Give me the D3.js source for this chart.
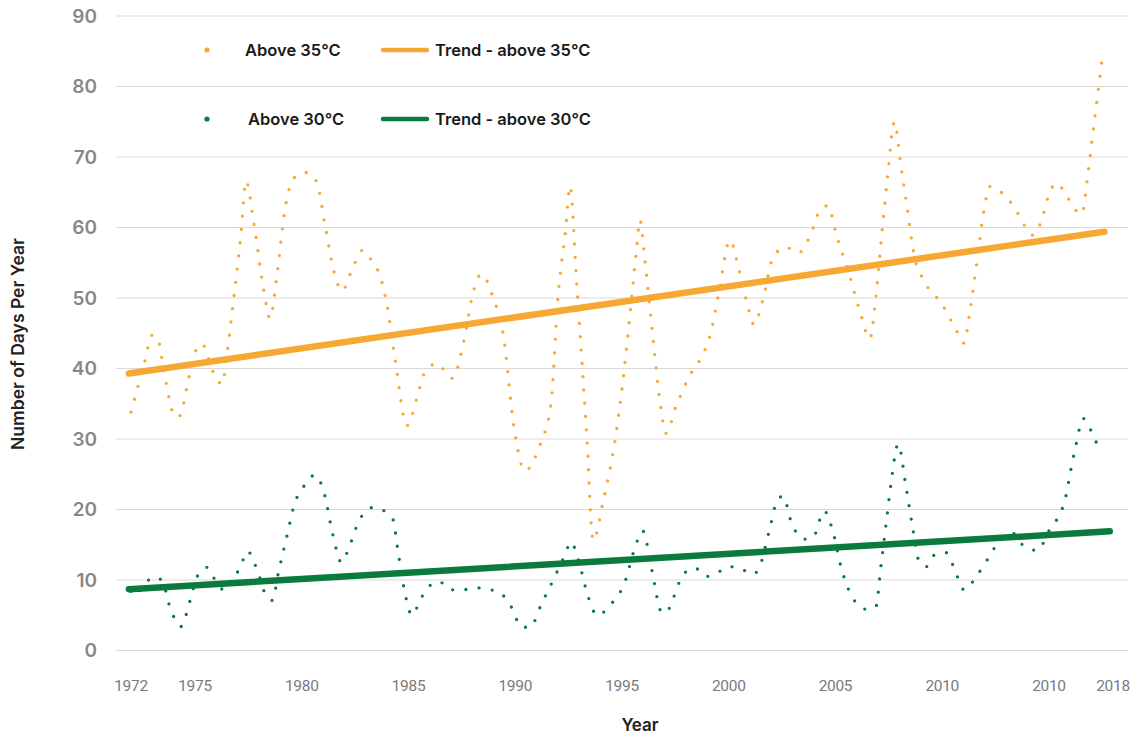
<!DOCTYPE html>
<html><head><meta charset="utf-8">
<script src="https://cdn.jsdelivr.net/npm/d3@7/dist/d3.min.js"></script>
<style>body{margin:0;background:#fff;} svg{display:block;}</style>
</head><body><svg id="c" width="1145" height="738"></svg>
<script>
// Days above 35°C
const yearsHot = [1972.00,1972.66,1972.98,1973.22,1973.59,1974.06,1974.25,1974.72,1975.04,1975.33,1975.79,1976.07,1976.31,1976.40,1976.78,1977.14,1977.39,1977.75,1978.22,1978.51,1978.82,1979.20,1979.49,1979.87,1980.20,1980.70,1981.07,1981.56,1981.88,1982.40,1982.87,1983.33,1983.66,1983.99,1984.37,1984.93,1985.40,1985.77,1986.32,1987.04,1987.64,1987.99,1988.41,1988.97,1989.44,1989.94,1990.45,1991.16,1991.67,1992.01,1992.37,1992.56,1992.88,1993.34,1993.65,1994.12,1994.70,1995.03,1995.37,1995.69,1995.84,1996.07,1996.46,1996.81,1997.06,1997.53,1998.15,1998.84,1999.12,1999.51,2000.06,2000.49,2000.95,2001.18,2001.62,2002.08,2002.67,2003.26,2003.84,2004.30,2004.66,2005.01,2005.60,2006.14,2006.61,2006.89,2007.19,2007.44,2007.76,2008.05,2008.33,2008.69,2009.14,2009.99,2010.63,2011.02,2011.30,2011.66,2011.92,2012.23,2012.52,2013.04,2013.45,2013.77,2014.25,2014.62,2014.97,2015.33,2015.83,2016.14,2016.54,2016.84,2017.15,2017.47];
const daysHot = [33.8,41.2,44.7,44.5,38.8,33.2,33.2,38.8,42.6,43.5,39.9,38.2,37.8,39.7,49.1,58.7,66.6,60.7,51.1,47.1,52.8,62.3,66.2,67.6,67.8,66.5,60.7,53.1,51.0,54.4,56.8,55.0,53.2,49.0,41.3,31.9,35.9,39.5,40.7,38.6,44.6,50.3,53.4,50.0,44.8,31.7,25.5,29.2,35.0,50.4,60.0,65.9,52.0,30.9,15.6,21.2,30.3,37.9,47.5,57.2,61.1,55.4,44.0,34.6,30.8,34.6,38.9,42.3,44.6,50.3,58.2,53.9,48.2,46.2,50.0,55.8,57.2,56.4,59.0,62.6,63.1,59.3,53.8,48.2,44.2,50.1,59.7,67.2,75.0,69.1,63.4,56.0,52.5,49.1,45.6,43.6,48.2,56.0,61.8,65.8,65.5,64.2,62.5,60.7,58.9,60.7,64.4,66.3,64.5,62.9,61.9,68.0,75.7,83.4];

// Days above 30°C
const yearsWarm = [1972.00,1972.19,1972.58,1973.02,1973.44,1973.83,1974.34,1974.76,1975.12,1975.57,1975.90,1976.40,1976.90,1977.19,1977.45,1977.89,1978.31,1978.62,1978.90,1979.34,1979.63,1980.12,1980.62,1981.05,1981.45,1981.86,1982.21,1982.68,1983.35,1984.24,1984.55,1984.87,1985.16,1985.50,1985.77,1986.43,1986.97,1987.54,1988.11,1988.71,1989.32,1989.72,1990.33,1990.69,1991.24,1991.81,1992.33,1992.61,1992.95,1993.42,1993.83,1994.52,1995.11,1995.65,1995.96,1996.42,1996.82,1997.06,1997.37,1997.87,1998.43,1998.92,1999.40,1999.98,2000.56,2001.15,2001.43,2001.93,2002.24,2002.54,2002.95,2003.57,2003.96,2004.47,2004.85,2005.29,2005.91,2006.52,2006.89,2007.13,2007.36,2007.59,2007.94,2008.29,2008.59,2008.95,2009.27,2009.61,2010.16,2010.72,2011.02,2011.66,2012.34,2012.70,2013.33,2013.79,2014.45,2015.08,2015.43,2015.78,2016.01,2016.26,2016.61,2017.00,2017.26];
const daysWarm = [8.4,7.8,9.1,10.4,10.0,6.1,3.4,7.0,10.6,11.8,10.2,8.5,10.6,12.4,14.1,11.6,7.9,7.1,11.0,16.7,20.5,23.4,24.9,22.3,16.5,12.5,14.6,18.4,20.3,18.8,13.2,7.6,5.0,6.8,8.4,9.8,8.6,8.6,8.9,8.7,8.1,6.7,3.3,3.3,6.7,10.2,13.6,15.4,12.9,7.6,5.0,6.7,9.5,15.0,17.0,11.1,5.6,5.3,7.2,10.8,11.7,10.5,10.9,11.9,11.6,10.8,11.8,17.4,21.1,21.9,18.0,15.8,16.1,19.8,17.2,11.5,7.0,5.8,6.2,12.0,17.7,23.4,29.3,23.5,17.9,12.4,11.9,13.5,13.9,10.4,8.6,10.8,14.0,15.8,16.6,14.9,14.2,17.4,18.9,21.7,25.4,29.1,32.9,31.0,29.2];

// Linear trends
const trendYearsHot = [1971.9, 2017.6];
const trendHot = [39.3, 59.4];
const trendYearsWarm = [1971.9, 2017.85];
const trendWarm = [8.7, 16.9];

// Axis ticks
const yTicks = [0,10,20,30,40,50,60,70,80,90];
const xTickYears = [1972,1975,1980,1985,1990,1995,2000,2005,2010,2015,2018];
const xTickLabels = ["1972","1975","1980","1985","1990","1995","2000","2005","2010","2010","2018"];

const seriesNames = ["Above 35°C","Trend - above 35°C","Above 30°C","Trend - above 30°C"];
const ORANGE = "#F6A833", GREEN = "#0A7A3E";
const FONT = "Inter, Lato, sans-serif";

const svg = d3.select("#c");
const x = d3.scaleLinear().domain([1972, 2018]).range([131, 1113]);
const y = d3.scaleLinear().domain([0, 90]).range([650.5, 16]);

// gridlines
svg.append("g").selectAll("line").data(yTicks).join("line")
  .attr("x1", 116).attr("x2", 1128)
  .attr("y1", d => y(d)).attr("y2", d => y(d))
  .attr("stroke", "#d9d9d9").attr("stroke-width", 1.2);

// y tick labels
svg.append("g").selectAll("text").data(yTicks).join("text")
  .attr("x", 97).attr("y", d => y(d)).attr("dy", "0.36em")
  .attr("text-anchor", "end")
  .attr("font-family", FONT).attr("font-weight", 600)
  .attr("font-size", 19).attr("fill", "#888888")
  .text(d => d);

// x tick labels
svg.append("g").selectAll("text").data(xTickYears).join("text")
  .attr("x", d => x(d)).attr("y", 691)
  .attr("text-anchor", "middle")
  .attr("font-family", "Roboto, sans-serif").attr("font-weight", 400)
  .attr("font-size", 15.5).attr("fill", "#7a7a7a").attr("letter-spacing", -0.3)
  .text((d, i) => xTickLabels[i]);

// axis titles
svg.append("text").attr("x", 640).attr("y", 731).attr("text-anchor", "middle")
  .attr("font-family", FONT).attr("font-weight", 600).attr("font-size", 17)
  .attr("fill", "#222").text("Year");
svg.append("text").attr("transform", "translate(24,344) rotate(-90)").attr("text-anchor", "middle")
  .attr("font-family", FONT).attr("font-weight", 600).attr("font-size", 17.5)
  .attr("fill", "#222").text("Number of Days Per Year");

const line = d3.line().x(d => x(d[0])).y(d => y(d[1])).curve(d3.curveMonotoneX);
const lin = d3.line().x(d => x(d[0])).y(d => y(d[1]));

function dotted(years, vals, color) {
  svg.append("path").datum(d3.zip(years, vals))
    .attr("d", line).attr("fill", "none").attr("stroke", color)
    .attr("stroke-width", 3.3).attr("stroke-linecap", "round")
    .attr("stroke-dasharray", "0 13.3");
}
function trend(years, vals, color) {
  svg.append("path").datum(d3.zip(years, vals))
    .attr("d", lin).attr("fill", "none").attr("stroke", color)
    .attr("stroke-width", 6.5).attr("stroke-linecap", "round");
}
dotted(yearsHot, daysHot, ORANGE);
dotted(yearsWarm, daysWarm, GREEN);
trend(trendYearsHot, trendHot, ORANGE);
trend(trendYearsWarm, trendWarm, GREEN);

// legend
const legend = [
  {name: seriesNames[0], color: ORANGE, type: "dot", row: 0, col: 0},
  {name: seriesNames[1], color: ORANGE, type: "line", row: 0, col: 1},
  {name: seriesNames[2], color: GREEN, type: "dot", row: 1, col: 0},
  {name: seriesNames[3], color: GREEN, type: "line", row: 1, col: 1}
];
const lg = svg.append("g").selectAll("g").data(legend).join("g")
  .attr("transform", d => `translate(${d.col === 0 ? 207 : 383},${d.row === 0 ? 50 : 119})`);
lg.filter(d => d.type === "dot").append("circle").attr("r", 2.6).attr("fill", d => d.color);
lg.filter(d => d.type === "line").append("line").attr("x1", 0).attr("x2", 44)
  .attr("stroke", d => d.color).attr("stroke-width", 4.5).attr("stroke-linecap", "round");
lg.append("text").attr("x", d => d.type === "dot" ? (d.row === 0 ? 38 : 41) : 52).attr("dy", "0.36em")
  .attr("font-family", FONT).attr("font-weight", 600).attr("font-size", 16.5)
  .attr("fill", "#1a1a1a").text(d => d.name);
</script></body></html>
